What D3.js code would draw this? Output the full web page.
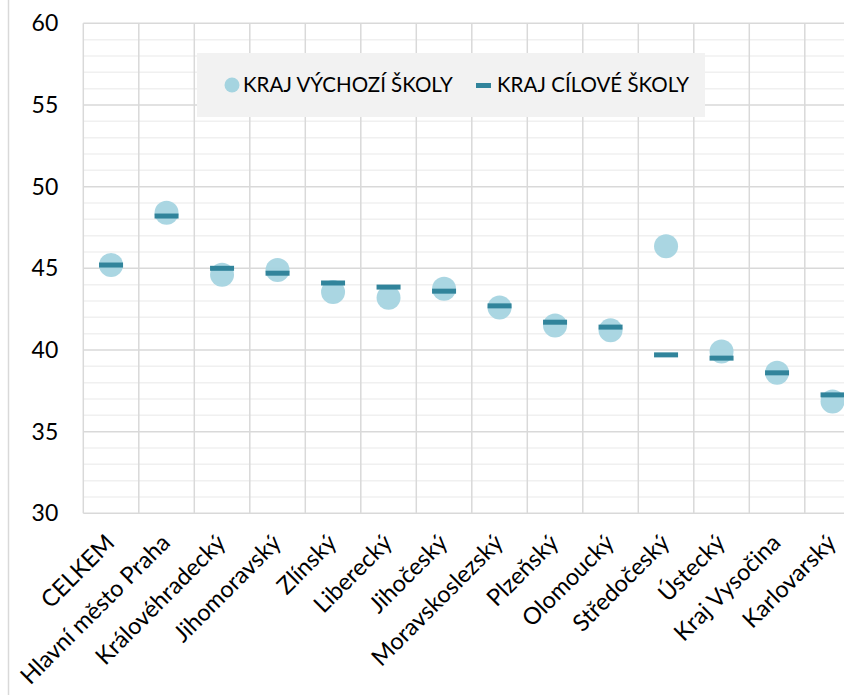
<!DOCTYPE html>
<html>
<head>
<meta charset="utf-8">
<script src="https://cdn.jsdelivr.net/npm/d3@7"></script>
<style>
  html, body { margin: 0; padding: 0; background: #fff; }
  svg { display: block; }
  text { font-family: Lato, "Open Sans", sans-serif; fill: #000; }
</style>
</head>
<body>
<svg id="chart" width="844" height="695"></svg>
<script>
// Regions, ordered by average of the source-school region
const categories = ["CELKEM", "Hlavní město Praha", "Královéhradecký", "Jihomoravský", "Zlínský",
  "Liberecký", "Jihočeský", "Moravskoslezský", "Plzeňský", "Olomoucký", "Středočeský",
  "Ústecký", "Kraj Vysočina", "Karlovarský"];
// KRAJ VÝCHOZÍ ŠKOLY (circles)
const vychozi = [45.2, 48.4, 44.6, 44.9, 43.55, 43.2, 43.75, 42.6, 41.5, 41.2, 46.35, 39.9, 38.6, 36.85];
// KRAJ CÍLOVÉ ŠKOLY (dashes)
const cilove = [45.2, 48.2, 45.0, 44.7, 44.1, 43.85, 43.6, 42.7, 41.7, 41.4, 39.7, 39.5, 38.6, 37.25];
const yTicks = [30, 35, 40, 45, 50, 55, 60];
const seriesNames = ["KRAJ VÝCHOZÍ ŠKOLY", "KRAJ CÍLOVÉ ŠKOLY"];

const circleColor = "#a5d4e0";
const dashColor = "#31849b";

const svg = d3.select("#chart");
const plotLeft = 83.3, plotTop = 23.3, plotBottom = 513.3;
const bandW = 55.5;
const plotRight = plotLeft + bandW * categories.length;

const x = d3.scaleBand().domain(categories).range([plotLeft, plotRight]).padding(0);
const y = d3.scaleLinear().domain([30, 60]).range([plotBottom, plotTop]);

// outer frame line on the left
svg.append("line").attr("x1", 8.5).attr("x2", 8.5).attr("y1", 0).attr("y2", 695)
  .attr("stroke", "#d9d9d9").attr("stroke-width", 1.5);

// minor horizontal gridlines (every 1)
const minor = d3.range(30, 61, 1).filter(v => v % 5 !== 0);
svg.append("g").selectAll("line").data(minor).join("line")
  .attr("x1", plotLeft).attr("x2", plotRight)
  .attr("y1", d => y(d)).attr("y2", d => y(d))
  .attr("stroke", "#f0f0f0").attr("stroke-width", 1.5);

// vertical gridlines between categories
const bounds = categories.map(c => x(c)).concat([plotRight]);
svg.append("g").selectAll("line").data(bounds).join("line")
  .attr("x1", d => d).attr("x2", d => d)
  .attr("y1", plotTop).attr("y2", plotBottom)
  .attr("stroke", "#d9d9d9").attr("stroke-width", 1.5);

// major horizontal gridlines
svg.append("g").selectAll("line").data(yTicks).join("line")
  .attr("x1", plotLeft).attr("x2", plotRight)
  .attr("y1", d => y(d)).attr("y2", d => y(d))
  .attr("stroke", "#d9d9d9").attr("stroke-width", 1.5);

// y axis labels
const yAxis = d3.axisLeft(y).tickValues(yTicks).tickSize(0).tickPadding(25);
const yg = svg.append("g").attr("transform", `translate(${plotLeft},0)`).call(yAxis);
yg.select(".domain").remove();
yg.selectAll("text").style("font-size", "23px").style("font-family", "Lato, sans-serif").attr("fill", "#000");

// x axis labels, rotated
const xAxis = d3.axisBottom(x).tickSize(0).tickPadding(0);
const xg = svg.append("g").attr("transform", `translate(0,${plotBottom})`).call(xAxis);
xg.select(".domain").remove();
xg.selectAll("text")
  .style("font-size", "23.5px").style("font-family", "Lato, sans-serif").attr("fill", "#000")
  .attr("text-anchor", "end")
  .attr("dy", null)
  .attr("y", 0)
  .attr("transform", "translate(5,31) rotate(-45)");

// legend
const lg = svg.append("g");
lg.append("rect").attr("x", 197).attr("y", 53).attr("width", 508).attr("height", 64).attr("fill", "#f2f2f2");
lg.append("circle").attr("cx", 232).attr("cy", 85).attr("r", 7.5).attr("fill", circleColor);
lg.append("text").attr("x", 243).attr("y", 85).attr("dy", "0.36em")
  .style("font-size", "20.5px").text(seriesNames[0]);
lg.append("rect").attr("x", 476).attr("y", 83).attr("width", 15).attr("height", 5).attr("fill", dashColor);
lg.append("text").attr("x", 497).attr("y", 85).attr("dy", "0.36em")
  .style("font-size", "20.5px").text(seriesNames[1]);

// circles: source-school region
svg.append("g").selectAll("circle").data(vychozi).join("circle")
  .attr("cx", (d, i) => x(categories[i]) + x.bandwidth() / 2)
  .attr("cy", d => y(d))
  .attr("r", 12)
  .attr("fill", circleColor).attr("fill-opacity", 0.95);

// dashes: target-school region
svg.append("g").selectAll("rect").data(cilove).join("rect")
  .attr("x", (d, i) => x(categories[i]) + x.bandwidth() / 2 - 12)
  .attr("y", d => y(d) - 2.5)
  .attr("width", 24).attr("height", 5)
  .attr("fill", dashColor);
</script>
</body>
</html>
